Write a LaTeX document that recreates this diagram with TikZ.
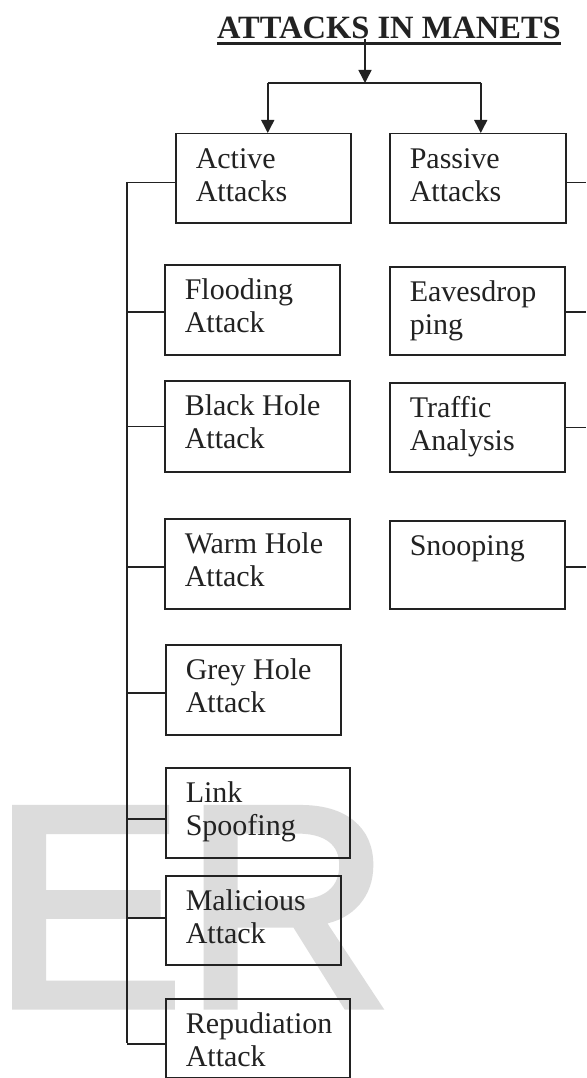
\documentclass[tikz,border=0pt]{standalone}
\usepackage{fontspec}
\setmainfont{Liberation Serif}
\newfontfamily\wmfont[FakeBold=2.5]{Liberation Sans}
\usetikzlibrary{arrows.meta}
\definecolor{ink}{HTML}{222222}
\definecolor{wm}{HTML}{DCDCDC}
\newcommand{\bxt}[3]{\begin{minipage}[t][#2][t]{#1}\raggedright\leftskip=20pt\rule{0pt}{35pt}#3\end{minipage}}
\begin{document}
\begin{tikzpicture}[x=1pt,y=-1pt,
  box/.style={draw=ink, line width=1.5pt, inner sep=0pt, anchor=north west, text=ink,
    font=\fontsize{30}{32.5}\selectfont},
  conn/.style={draw=ink, line width=1.5pt},
  arr/.style={conn, -{Triangle[length=13pt,width=13pt]}},
  titlestyle/.style={inner sep=0pt, anchor=base, text=ink, font=\fontsize{32.5}{34}\selectfont\bfseries}]
\useasboundingbox (0,0) rectangle (586,1078);
\fill[white] (0,0) rectangle (586,1078);
% watermark
\node[anchor=base west, inner sep=0pt, text=wm, font=\wmfont\fontsize{287}{287}\selectfont] (wmark) at (-8,1006) {ER};
% title
\node[titlestyle] (title) at (389,39) {ATTACKS IN MANETS};
\draw[line width=2.6pt, ink] ([yshift=-4.5pt]title.base west) -- ([yshift=-4.5pt]title.base east);
% boxes
\node[box] (active)  at (175,133) {\bxt{175pt}{89pt}{Active\\Attacks}};
\node[box] (passive) at (389,133) {\bxt{176pt}{89pt}{Passive\\Attacks}};
\node[box] (flood)   at (164,264) {\bxt{175pt}{90pt}{Flooding\\Attack}};
\node[box] (black)   at (164,380) {\bxt{185pt}{91pt}{Black Hole\\Attack}};
\node[box] (warm)    at (164,518) {\bxt{185pt}{90pt}{Warm Hole\\Attack}};
\node[box] (grey)    at (165,644) {\bxt{175pt}{90pt}{Grey Hole\\Attack}};
\node[box] (link)    at (165,767) {\bxt{184pt}{90pt}{Link\\Spoofing}};
\node[box] (mal)     at (165,875) {\bxt{175pt}{89pt}{Malicious\\Attack}};
\node[box] (rep)     at (165,998) {\bxt{184pt}{79pt}{Repudiation\\Attack}};
\node[box] (eaves)   at (389,266) {\bxt{175pt}{88pt}{Eavesdrop\\ping}};
\node[box] (traffic) at (389,382) {\bxt{175pt}{89pt}{Traffic\\Analysis}};
\node[box] (snoop)   at (389,520) {\bxt{175pt}{88pt}{Snooping}};
% top arrows
\coordinate (split) at (365,83);
\coordinate (aa) at ([xshift=4.5pt]active.north);
\coordinate (pp) at ([xshift=3pt]passive.north);
\draw[arr] (title.base -| split) -- (split);
\draw[conn] (aa |- split) -- (pp |- split);
\draw[arr] (aa |- split) -- (aa);
\draw[arr] (pp |- split) -- (pp);
% left spine
\coordinate (spinetop) at (127,182);
\coordinate (spinebot) at (127,1043);
\draw[conn] (spinetop) -- (spinebot);
\draw[conn] ([yshift=-4.5pt]active.west) coordinate (c1) -- (c1 -| spinetop);
\draw[conn] ([yshift=-2pt]flood.west) coordinate (c2) -- (c2 -| spinetop);
\draw[conn] ([yshift=0pt]black.west) coordinate (c3) -- (c3 -| spinetop);
\draw[conn] ([yshift=-3pt]warm.west) coordinate (c4) -- (c4 -| spinetop);
\draw[conn] ([yshift=-3pt]grey.west) coordinate (c5) -- (c5 -| spinetop);
\draw[conn] ([yshift=-6pt]link.west) coordinate (c6) -- (c6 -| spinetop);
\draw[conn] ([yshift=2.5pt]mal.west) coordinate (c7) -- (c7 -| spinetop);
\draw[conn] ([yshift=-5.5pt]rep.west) coordinate (c8) -- (c8 -| spinetop);
% right stubs
\coordinate (redge) at (586,0);
\draw[conn] ([yshift=-4.5pt]passive.east) coordinate (r1) -- (r1 -| redge);
\draw[conn] ([yshift=-1pt]eaves.east) coordinate (r2) -- (r2 -| redge);
\draw[conn] ([yshift=0pt]traffic.east) coordinate (r3) -- (r3 -| redge);
\draw[conn] ([yshift=-2pt]snoop.east) coordinate (r4) -- (r4 -| redge);
\end{tikzpicture}
\end{document}
